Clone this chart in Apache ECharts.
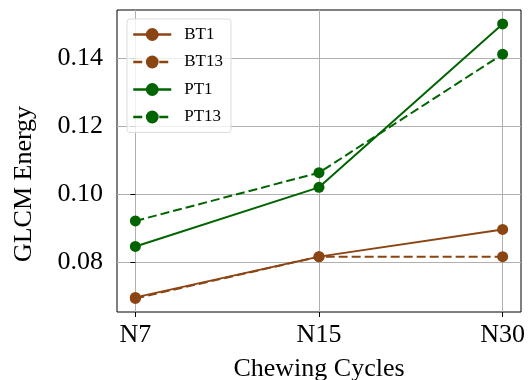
<!DOCTYPE html>
<html><head><meta charset="utf-8">
<script src="https://cdn.jsdelivr.net/npm/echarts@6/dist/echarts.min.js"></script>
<style>html,body{margin:0;padding:0;background:#fff}#c{width:532px;height:380px}</style>
</head><body><div id="c"></div>
<script>
var categories = ['N7', 'N15', 'N30'];
var BT1 = [0.0696, 0.0816, 0.0896];
var BT13 = [0.0693, 0.0816, 0.0816];
var PT1 = [0.0846, 0.1020, 0.1501];
var PT13 = [0.0921, 0.1063, 0.1412];
var yTicks = [0.08, 0.10, 0.12, 0.14];
var xTicks = [0, 1, 2];

var FONT = 'Liberation Serif';
var BROWN = '#8B4513', GREEN = '#006400';
function pts(arr){ return arr.map(function(v,i){ return [i, v]; }); }
function mk(name, data, color, dashed){
  return {
    name: name, type: 'line', data: pts(data),
    symbol: 'circle', symbolSize: 11, showSymbol: true,
    lineStyle: {color: color, width: 2, type: dashed ? [9, 4] : 'solid'},
    itemStyle: {color: color},
    emphasis: {disabled: true}, animation: false
  };
}
var chart = echarts.init(document.getElementById('c'), null, {renderer: 'canvas'});
chart.setOption({
  animation: false,
  grid: {left: 117, right: 11, top: 10, bottom: 68, show: true, borderColor: '#000', borderWidth: 1, backgroundColor: 'transparent', outerBoundsMode: 'none', containLabel: false},
  xAxis: {
    type: 'value', min: -0.1, max: 2.1,
    name: 'Chewing Cycles', nameLocation: 'middle', nameGap: 44,
    nameTextStyle: {fontFamily: FONT, fontSize: 26, color: '#000'},
    axisLine: {show: false},
    axisTick: {show: true, customValues: xTicks, length: 5, lineStyle: {color: '#000', width: 1}},
    axisLabel: {customValues: xTicks, formatter: function(v){ return categories[Math.round(v)]; }, fontFamily: FONT, fontSize: 26, color: '#000', margin: 10},
    splitLine: {show: true, customValues: xTicks, lineStyle: {color: '#b0b0b0', width: 1}}
  },
  yAxis: {
    type: 'value', min: 0.0653, max: 0.1542,
    name: 'GLCM Energy', nameLocation: 'middle', nameGap: 80,
    nameTextStyle: {fontFamily: FONT, fontSize: 26, color: '#000', padding: [0, 46, 0, 0]},
    axisLine: {show: false},
    axisTick: {show: true, customValues: yTicks, length: 5, lineStyle: {color: '#000', width: 1}},
    axisLabel: {customValues: yTicks, formatter: function(v){ return v.toFixed(2); }, fontFamily: FONT, fontSize: 26, color: '#000', margin: 14},
    splitLine: {show: true, customValues: yTicks, lineStyle: {color: '#b0b0b0', width: 1}}
  },
  legend: {
    orient: 'vertical', left: 127, top: 19,
    data: ['BT1', 'BT13', 'PT1', 'PT13'],
    itemWidth: 38, itemHeight: 16, itemGap: 10.5,
    padding: [7, 8, 7, 5],
    backgroundColor: 'rgba(255,255,255,0.8)', borderColor: '#dcdcdc', borderWidth: 1, borderRadius: 3,
    lineStyle: {width: 2.5},
    textStyle: {fontFamily: FONT, fontSize: 17, color: '#000', padding: [0, 0, 0, 8]}
  },
  series: [mk('BT1', BT1, BROWN, false), mk('BT13', BT13, BROWN, true), mk('PT1', PT1, GREEN, false), mk('PT13', PT13, GREEN, true)]
});
</script></body></html>
